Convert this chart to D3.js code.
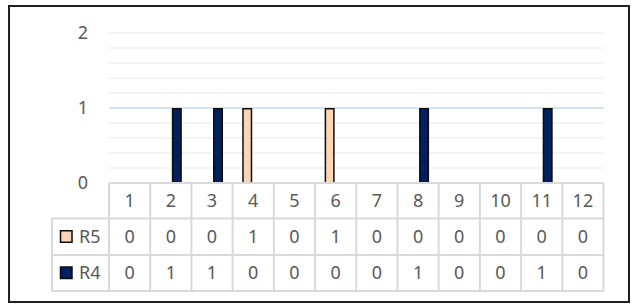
<!DOCTYPE html>
<html><head><meta charset="utf-8">
<script src="https://cdn.jsdelivr.net/npm/d3@7"></script>
<style>
html,body{margin:0;padding:0;background:#fff;}
svg{display:block;font-family:"Noto Sans","Open Sans",sans-serif;}
</style></head>
<body>
<svg id="chart" width="631" height="304"></svg>
<script>
const categories = ["1","2","3","4","5","6","7","8","9","10","11","12"];
const seriesNames = ["R5","R4"];
const r5Values = [0,0,0,1,0,1,0,0,0,0,0,0];
const r4Values = [0,1,1,0,0,0,0,1,0,0,1,0];
const yTicks = [0,1,2];
const seriesColors = {R5:"#FCD5B5", R4:"#002060"};

const svg = d3.select("#chart");
const plotLeft = 109, plotRight = 603.5, yZero = 183, yTop = 33;
const tableLeft = 52;
const rowLines = [183, 218.5, 255, 291];

// Outer frame
svg.append("rect").attr("x",9).attr("y",6).attr("width",620).attr("height",296)
  .attr("fill","#fff").attr("stroke","#1f1f1f").attr("stroke-width",2);

const x = d3.scaleBand().domain(categories).range([plotLeft, plotRight]).padding(0);
const xInner = d3.scaleBand().domain(seriesNames).range([0, x.bandwidth()])
  .paddingInner(1/6).paddingOuter(0.8);
const y = d3.scaleLinear().domain([0,2]).range([yZero, yTop]);

// minor gridlines
const minor = d3.range(0, 2.0001, 0.2).filter(v => Math.abs(v - Math.round(v)) > 1e-6);
svg.append("g").selectAll("line").data(minor).join("line")
  .attr("x1",plotLeft).attr("x2",plotRight)
  .attr("y1",d=>y(d)).attr("y2",d=>y(d))
  .attr("stroke","#f0f0f0").attr("stroke-width",1.5);
// major gridlines
svg.append("g").selectAll("line").data(yTicks.filter(d=>d>0)).join("line")
  .attr("x1",plotLeft).attr("x2",plotRight)
  .attr("y1",d=>y(d)).attr("y2",d=>y(d))
  .attr("stroke",d=> d===1 ? "#c6d7ee" : "#edf2f9").attr("stroke-width",1.5);

// y tick labels
svg.append("g").selectAll("text").data(yTicks).join("text")
  .attr("x",88).attr("y",d=>y(d)).attr("dy","0.36em")
  .attr("text-anchor","end").attr("font-size",18).attr("fill","#595959")
  .text(d=>d);

// bars
const seriesData = {R5:r5Values, R4:r4Values};
const sw = 1.5;
seriesNames.forEach(s => {
  svg.append("g").selectAll("rect").data(categories.map((c,i)=>({c, v:seriesData[s][i]})).filter(d=>d.v>0))
    .join("rect")
    .attr("x", d => x(d.c) + xInner(s) + sw/2)
    .attr("width", xInner.bandwidth() - sw)
    .attr("y", d => y(d.v) + sw/2)
    .attr("height", d => y(0) - y(d.v) - sw/2)
    .attr("fill", seriesColors[s]).attr("stroke","#0d0d0d").attr("stroke-width",sw);
});

// Data table
const tg = svg.append("g");
const gridColor = "#d9d9d9", gw = 2;
// horizontal lines
tg.append("line").attr("x1",plotLeft).attr("x2",plotRight).attr("y1",rowLines[0]).attr("y2",rowLines[0])
  .attr("stroke",gridColor).attr("stroke-width",gw);
rowLines.slice(1).forEach(yy => {
  tg.append("line").attr("x1",tableLeft).attr("x2",plotRight).attr("y1",yy).attr("y2",yy)
    .attr("stroke",gridColor).attr("stroke-width",gw);
});
// vertical lines
const colEdges = categories.map(c => x(c)).concat([plotRight]);
tg.selectAll("line.v").data(colEdges).join("line").attr("class","v")
  .attr("x1",d=>d).attr("x2",d=>d).attr("y1",rowLines[0]).attr("y2",rowLines[3])
  .attr("stroke",gridColor).attr("stroke-width",gw);
tg.append("line").attr("x1",tableLeft).attr("x2",tableLeft).attr("y1",rowLines[1]).attr("y2",rowLines[3])
  .attr("stroke",gridColor).attr("stroke-width",gw);

// header numbers
tg.selectAll("text.h").data(categories).join("text").attr("class","h")
  .attr("x", d => x(d) + x.bandwidth()/2).attr("y",(rowLines[0]+rowLines[1])/2).attr("dy","0.36em")
  .attr("text-anchor","middle").attr("font-size",18).attr("fill","#595959").text(d=>d);

seriesNames.forEach((s, r) => {
  const cy = (rowLines[r+1] + rowLines[r+2]) / 2;
  tg.append("rect").attr("x",60.5).attr("y",cy-6).attr("width",11.5).attr("height",11.5)
    .attr("fill",seriesColors[s]).attr("stroke","#0d0d0d").attr("stroke-width",1.5);
  tg.append("text").attr("x",79).attr("y",cy).attr("dy","0.36em")
    .attr("font-size",18).attr("fill","#595959").text(s);
  tg.selectAll("text.v"+s).data(seriesData[s]).join("text").attr("class","v"+s)
    .attr("x",(d,i)=> x(categories[i]) + x.bandwidth()/2).attr("y",cy).attr("dy","0.36em")
    .attr("text-anchor","middle").attr("font-size",18).attr("fill","#595959").text(d=>d);
});
</script>
</body></html>
